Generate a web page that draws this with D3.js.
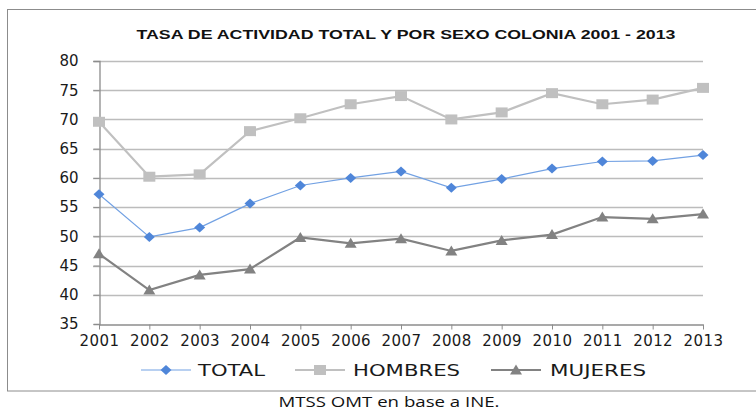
<!DOCTYPE html>
<html>
<head>
<meta charset="utf-8">
<script src="https://cdn.jsdelivr.net/npm/d3@7"></script>
<style>
body { margin: 0; background: #fff; }
</style>
</head>
<body>
<script>
var years = [2001, 2002, 2003, 2004, 2005, 2006, 2007, 2008, 2009, 2010, 2011, 2012, 2013];
var total = [57.2, 49.9, 51.5, 55.6, 58.7, 60.0, 61.1, 58.3, 59.8, 61.6, 62.8, 62.9, 63.9];
var hombres = [69.6, 60.2, 60.6, 68.0, 70.2, 72.6, 74.0, 70.0, 71.2, 74.5, 72.6, 73.4, 75.4];
var mujeres = [47.0, 40.8, 43.4, 44.4, 49.8, 48.8, 49.6, 47.5, 49.3, 50.3, 53.3, 53.0, 53.8];
var yTicks = [35, 40, 45, 50, 55, 60, 65, 70, 75, 80];

var series = [
  { name: "TOTAL", values: total, color: "#4f86d9", line: "#72a1e3", width: 1.2, shape: "diamond" },
  { name: "HOMBRES", values: hombres, color: "#c0c0c0", line: "#c0c0c0", width: 2.2, shape: "square" },
  { name: "MUJERES", values: mujeres, color: "#828282", line: "#828282", width: 2.2, shape: "triangle" }
];

var svg = d3.select("body").append("svg")
  .attr("width", 756)
  .attr("height", 412);

// outer frame
svg.append("rect")
  .attr("x", 7.5).attr("y", 9.5)
  .attr("width", 760).attr("height", 381.5)
  .attr("fill", "none").attr("stroke", "#8c8c8c").attr("stroke-width", 1);

svg.append("text")
  .attr("x", 406).attr("y", 39)
  .attr("text-anchor", "middle")
  .attr("font-family", "Liberation Sans, Arial, sans-serif")
  .attr("font-weight", "bold")
  .attr("font-size", 13.5)
  .attr("textLength", 539)
  .attr("lengthAdjust", "spacingAndGlyphs")
  .attr("fill", "#111")
  .text("TASA DE ACTIVIDAD TOTAL Y POR SEXO COLONIA 2001 - 2013");

var x = d3.scalePoint().domain(years).range([99, 703]);
var y = d3.scaleLinear().domain([35, 80]).range([324, 61]);

// grid
svg.append("g").selectAll("line")
  .data(yTicks.filter(function(d) { return d > 35; }))
  .join("line")
  .attr("x1", 93).attr("x2", 703)
  .attr("y1", function(d) { return Math.round(y(d)) + 0.5; })
  .attr("y2", function(d) { return Math.round(y(d)) + 0.5; })
  .attr("stroke", "#bcbcbc").attr("stroke-width", 1.3);

// y axis
var yAxis = svg.append("g")
  .attr("transform", "translate(99.5,0)")
  .call(d3.axisLeft(y).tickValues(yTicks).tickSize(6).tickPadding(15));
yAxis.select(".domain").attr("stroke", "#8c8c8c").attr("stroke-width", 1.3);
yAxis.selectAll(".tick line").attr("stroke", "#8c8c8c");
yAxis.selectAll(".tick text")
  .attr("font-family", "DejaVu Sans, Verdana, sans-serif")
  .attr("font-size", 15).attr("fill", "#1a1a1a");

// x axis
var xAxis = svg.append("g")
  .attr("transform", "translate(0,324.5)")
  .call(d3.axisBottom(x).tickSize(5).tickPadding(6).tickSizeOuter(0));
xAxis.select(".domain").attr("stroke", "#8c8c8c").attr("stroke-width", 1.3);
xAxis.selectAll(".tick line").attr("stroke", "#8c8c8c");
xAxis.selectAll(".tick text")
  .attr("font-family", "DejaVu Sans, Verdana, sans-serif")
  .attr("font-size", 15).attr("fill", "#1a1a1a")
  .attr("letter-spacing", 0.4);

function shapePath(shape) {
  if (shape === "diamond") return "M0,-5L5.5,0L0,5L-5.5,0Z";
  if (shape === "square") return "M-6,-5H6V5H-6Z";
  return "M0,-5.5L6,4.5H-6Z";
}

var line = d3.line()
  .x(function(d, i) { return x(years[i]); })
  .y(function(d) { return y(d); });

series.forEach(function(s) {
  svg.append("path")
    .attr("d", line(s.values))
    .attr("fill", "none")
    .attr("stroke", s.line)
    .attr("stroke-width", s.width);
});
series.forEach(function(s) {
  svg.append("g").selectAll("path")
    .data(s.values)
    .join("path")
    .attr("transform", function(d, i) { return "translate(" + x(years[i]) + "," + y(d) + ")"; })
    .attr("d", shapePath(s.shape))
    .attr("fill", s.color);
});

// legend
var legendPos = [
  { x0: 141, tx: 198, tw: 67 },
  { x0: 295, tx: 353, tw: 107 },
  { x0: 491, tx: 550, tw: 96 }
];
series.forEach(function(s, i) {
  var p = legendPos[i];
  var g = svg.append("g").attr("transform", "translate(0,370)");
  g.append("line")
    .attr("x1", p.x0).attr("x2", p.x0 + 50)
    .attr("stroke", s.line).attr("stroke-width", s.width);
  g.append("path")
    .attr("transform", "translate(" + (p.x0 + 25) + ",0)")
    .attr("d", shapePath(s.shape))
    .attr("fill", s.color);
  g.append("text")
    .attr("x", p.tx).attr("y", 6)
    .attr("font-family", "DejaVu Sans, Verdana, sans-serif")
    .attr("font-size", 16.5)
    .attr("textLength", p.tw)
    .attr("lengthAdjust", "spacingAndGlyphs")
    .attr("fill", "#1a1a1a")
    .text(s.name);
});

svg.append("text")
  .attr("x", 389).attr("y", 407)
  .attr("text-anchor", "middle")
  .attr("font-family", "Open Sans, Liberation Sans, sans-serif")
  .attr("font-size", 15)
  .attr("textLength", 221)
  .attr("lengthAdjust", "spacingAndGlyphs")
  .attr("fill", "#111")
  .text("MTSS OMT en base a INE.");
</script>
</body>
</html>
